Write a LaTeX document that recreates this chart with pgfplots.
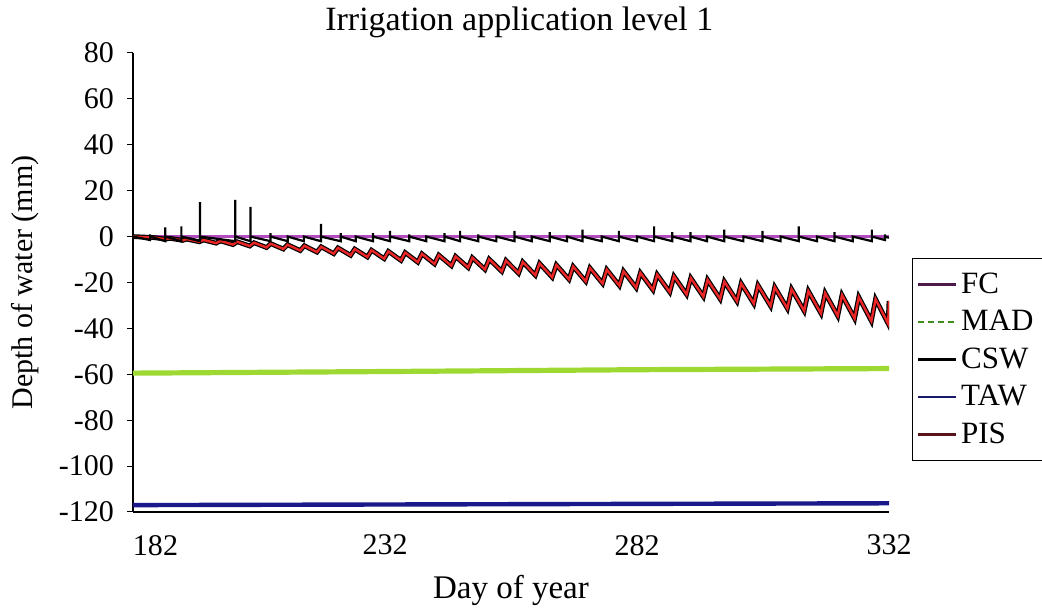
\documentclass[border=0pt]{standalone}
\usepackage{fontspec}
\setmainfont{Liberation Serif}
\usepackage{pgfplots}
\pgfplotsset{compat=1.18}
\definecolor{fcC}{rgb}{0.70,0.30,0.75}
\definecolor{madC}{rgb}{0.62,0.85,0.20}
\definecolor{tawC}{rgb}{0.10,0.10,0.55}
\definecolor{pisC}{rgb}{0.92,0.15,0.15}
\definecolor{fcL}{rgb}{0.30,0.10,0.30}
\definecolor{madL}{rgb}{0.25,0.55,0.10}
\definecolor{tawL}{rgb}{0.10,0.10,0.40}
\definecolor{pisL}{rgb}{0.35,0.08,0.10}
\begin{document}
\begin{tikzpicture}
\begin{axis}[
  name=ax,
  scale only axis, width=378pt, height=229.5pt,
  xmin=182, xmax=332, ymin=-120, ymax=80,
  axis x line*=bottom, axis y line*=left,
  axis line style={-, black, line width=0.6pt},
  xtick={182,232,282,332},
  xticklabels={\makebox[0pt][l]{182},232,282,332},
  x tick style={draw=none},
  ytick={-120,-100,-80,-60,-40,-20,0,20,40,60,80},
  yticklabels={-120,-100,-80,-60,-40,-20,0,20,40,60,80},
  tick align=outside, major tick length=3pt,
  y tick style={black, line width=0.5pt},
  tick label style={font=\fontsize{15}{17}\selectfont},
  xticklabel style={yshift=-5pt},
  yticklabel style={xshift=-3pt},
  title={Irrigation application level 1},
  title style={font=\fontsize{17}{19}\selectfont, at={(axis description cs:0.511,1.04)}, anchor=center},
  xlabel={Day of year},
  ylabel={Depth of water (mm)},
  every axis x label/.style={at={(axis description cs:0.5,-0.172)}, anchor=center, font=\fontsize{16.5}{18}\selectfont},
  every axis y label/.style={at={(axis description cs:-0.143,0.5)}, anchor=center, rotate=90, font=\fontsize{15}{17}\selectfont},
  legend style={at={(1.0304,0.553)}, anchor=north west, draw=black, line width=0.6pt, fill=white,
    font=\fontsize{15.5}{17}\selectfont, row sep=3pt, inner xsep=2pt, inner ysep=5pt},
  legend cell align=left,
  legend image code/.code={\draw[#1] (0pt,0pt) -- (19pt,0pt);},
]
% FC
\addplot[fcC, line width=1.2pt, forget plot] coordinates {(182,0) (332,0)};
% MAD
\addplot[madC, line width=2.6pt, forget plot] coordinates {(182,-59.5) (232,-58.8) (282,-58.0) (332,-57.5)};
% TAW
\addplot[tawC, line width=2.2pt, forget plot] coordinates {(182,-117) (332,-116.2)};
% PIS (outline + red)
\pgfplotstableread{
x y
182 0
186.0 -0.40
188.5 -1.09
189.33 -0.74
191.83 -1.66
192.67 -1.10
195.17 -2.26
196.0 -1.47
198.5 -2.86
199.33 -1.86
201.83 -3.48
202.67 -2.25
205.17 -4.11
206.0 -2.67
208.5 -4.75
209.33 -3.09
211.83 -5.41
212.67 -3.53
215.17 -6.08
216.0 -3.98
218.5 -6.76
219.33 -4.44
221.83 -7.46
222.67 -4.92
225.17 -8.17
226.0 -5.42
228.5 -8.89
229.33 -5.92
231.83 -9.63
232.67 -6.44
235.17 -10.38
236.0 -6.97
238.5 -11.14
239.33 -7.51
241.83 -11.92
242.67 -8.07
245.17 -12.71
246.0 -8.64
248.5 -13.51
249.33 -9.23
251.83 -14.33
252.67 -9.83
255.17 -15.16
256.0 -10.44
258.5 -16.01
259.33 -11.06
261.83 -16.86
262.67 -11.70
265.17 -17.73
266.0 -12.35
268.5 -18.62
269.33 -13.02
271.83 -19.51
272.67 -13.70
275.17 -20.43
276.0 -14.39
278.5 -21.35
279.33 -15.09
281.83 -22.29
282.67 -15.81
285.17 -23.24
286.0 -16.54
288.5 -24.20
289.33 -17.29
291.83 -25.18
292.67 -18.05
295.17 -26.17
296.0 -18.82
298.5 -27.17
299.33 -19.60
301.83 -28.19
302.67 -20.40
305.17 -29.22
306.0 -21.21
308.5 -30.26
309.33 -22.04
311.83 -31.32
312.67 -22.88
315.17 -32.39
316.0 -23.73
318.5 -33.47
319.33 -24.59
321.83 -34.57
322.67 -25.47
325.17 -35.68
326.0 -26.36
328.5 -36.81
329.33 -27.27
331.83 -37.94
332.0 -28.0
}\pistable
\addplot[black, line width=2.4pt, forget plot] table {\pistable};
\addplot[pisC, line width=1.2pt, forget plot] table {\pistable};
% CSW
\addplot[black, line width=1.1pt, forget plot] coordinates {
(182,0) (185.4,-1.5) (185.4,1) (185.4,0)
(188.4,-2) (188.4,4) (188.4,0)
(191.6,-2) (191.6,4.5) (191.6,0)
(195.3,-2) (195.3,15) (195.3,0)
(202.3,-2) (202.3,16) (202.3,0)
(205.3,-2) (205.3,13) (205.3,0)
(209.3,-2) (209.3,1.5) (209.3,0)
(212.7,-2) (212.7,0)
(215.9,-2) (215.9,0)
(219.3,-2) (219.3,5.5) (219.3,0)
(223.2,-2) (223.2,1.5) (223.2,0)
(226.2,-2) (226.2,0)
(229.6,-2) (229.6,1.5) (229.6,0)
(233.0,-2) (233.0,2.5) (233.0,0)
(236.8,-2) (236.8,1) (236.8,0)
(240.2,-2) (240.2,0)
(243.8,-2) (243.8,1.5) (243.8,0)
(246.9,-2) (246.9,2.5) (246.9,0)
(250.5,-2) (250.5,1) (250.5,0)
(254.1,-2) (254.1,0)
(257.7,-2) (257.7,2.5) (257.7,0)
(261.1,-2) (261.1,0)
(264.7,-2) (264.7,2) (264.7,0)
(268.1,-2) (268.1,0)
(271.2,-2) (271.2,3) (271.2,0)
(275.0,-2) (275.0,0)
(278.4,-2) (278.4,2.5) (278.4,0)
(282.0,-2) (282.0,0)
(285.4,-2) (285.4,4.5) (285.4,0)
(289.0,-2) (289.0,2) (289.0,0)
(292.6,-2) (292.6,2) (292.6,0)
(295.9,-2) (295.9,0)
(299.3,-2) (299.3,3) (299.3,0)
(303.1,-2) (303.1,0)
(306.9,-2) (306.9,2.5) (306.9,0)
(310.5,-2) (310.5,0)
(314.1,-2) (314.1,4.5) (314.1,0)
(317.7,-2) (317.7,0)
(321.2,-2) (321.2,2) (321.2,0)
(324.8,-2) (324.8,0)
(328.6,-2) (328.6,3) (328.6,0)
(331.2,-1.5) (331.2,1) (331.2,0) (332,-0.5)
};
\addlegendimage{fcL, line width=1.3pt}
\addlegendentry{FC}
\addlegendimage{madL, line width=1.3pt, densely dashed}
\addlegendentry{MAD\hspace*{20pt}}
\addlegendimage{black, line width=1.3pt}
\addlegendentry{CSW}
\addlegendimage{tawL, line width=1.3pt}
\addlegendentry{TAW}
\addlegendimage{pisL, line width=1.3pt}
\addlegendentry{PIS}
\end{axis}
\pgfresetboundingbox
\path[use as bounding box] ([shift={(-66.5pt,-50.5pt)}]ax.south west) rectangle ([shift={(454.5pt,256pt)}]ax.south west);
\end{tikzpicture}
\end{document}
